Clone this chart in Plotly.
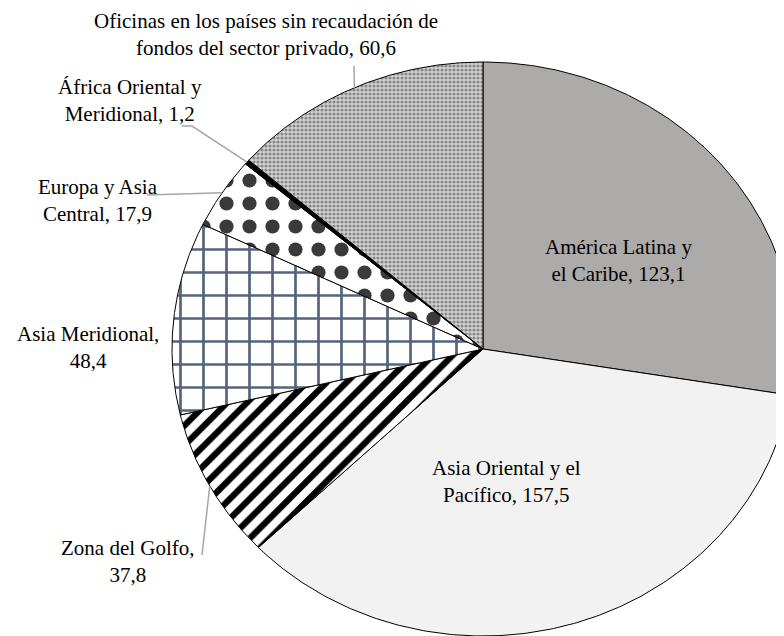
import numpy as np
import plotly.graph_objects as go

# data
names = [
    "América Latina y el Caribe",
    "Asia Oriental y el Pacífico",
    "Zona del Golfo",
    "Asia Meridional",
    "Europa y Asia Central",
    "África Oriental y Meridional",
    "Oficinas en los países sin recaudación de fondos del sector privado",
]
values = [123.1, 157.5, 37.8, 48.4, 17.9, 1.2, 60.6]
line_breaks = [3, 4, 3, 2, 3, 3, 7]  # words before the <br>

# styles
FONT = "'Liberation Serif', 'Times New Roman', serif"
LEADER = "#a6a6a6"
W, H = 784, 636
PAD = 8  # default body margin of the html page
CX, CY, RX, RY = 483, 349, 311, 287  # the chart is stretched horizontally

fills = [
    dict(fillcolor="#adaaaa"),
    dict(fillcolor="#f2f2f2"),
    dict(fillpattern=dict(shape="/", fgcolor="#000", bgcolor="#fff", fgopacity=1,
                          size=14, solidity=0.45)),
    dict(fillpattern=dict(shape="+", fgcolor="#55647a", bgcolor="#fff", fgopacity=1,
                          size=23, solidity=0.22)),
    dict(fillpattern=dict(shape=".", fgcolor="#3a3a3a", bgcolor="#fff", fgopacity=1,
                          size=23, solidity=0.3)),
    dict(fillcolor="#000"),
    dict(fillpattern=dict(shape=".", fgcolor="#888888", bgcolor="#d4d4d4", fgopacity=1,
                          size=4, solidity=0.5)),
]
label_pos = [(618, 260), (506, 481), (128, 561), (88, 347), (98, 200), (130, 100), (266, 34)]
leader_pts = {2: [(202, 555)], 4: [(147, 195)], 5: [(192, 126), (182, 126)], 6: [(354, 66)]}


def rim(theta):
    return CX + RX * np.sin(theta), CY - RY * np.cos(theta)


def fmt(v):
    return f"{v:.1f}".replace(".", ",")


total = sum(values)
edges = np.concatenate([[0], np.cumsum(values)]) / total * 2 * np.pi

fig = go.Figure()
for i, (name, v) in enumerate(zip(names, values)):
    th = np.linspace(edges[i], edges[i + 1], 200)
    xs, ys = rim(th)
    fig.add_trace(
        go.Scatter(
            x=np.concatenate([[CX], xs, [CX]]),
            y=np.concatenate([[CY], ys, [CY]]),
            mode="lines",
            fill="toself",
            line=dict(color="#000", width=1),
            hoverinfo="skip",
            **fills[i],
        )
    )

for i, pts in leader_pts.items():
    mid = (edges[i] + edges[i + 1]) / 2
    x0, y0 = rim(mid)
    fig.add_trace(
        go.Scatter(
            x=[x0] + [p[0] for p in pts],
            y=[y0] + [p[1] for p in pts],
            mode="lines",
            line=dict(color=LEADER, width=1.5),
            hoverinfo="skip",
        )
    )

for i, (name, v) in enumerate(zip(names, values)):
    words = f"{name}, {fmt(v)}".split(" ")
    k = line_breaks[i]
    text = " ".join(words[:k]) + "<br>" + " ".join(words[k:])
    fig.add_annotation(
        x=label_pos[i][0], y=label_pos[i][1], text=text, showarrow=False,
        xanchor="center", yanchor="middle", align="center",
        font=dict(family=FONT, size=21, color="#000"),
    )

fig.update_layout(
    width=W - PAD, height=H - PAD,
    margin=dict(l=0, r=0, t=0, b=0),
    plot_bgcolor="#fff", paper_bgcolor="#fff",
    showlegend=False,
    xaxis=dict(range=[PAD, W], visible=False, fixedrange=True),
    yaxis=dict(range=[H, PAD], visible=False, fixedrange=True),
)
fig.write_html("out.html")
